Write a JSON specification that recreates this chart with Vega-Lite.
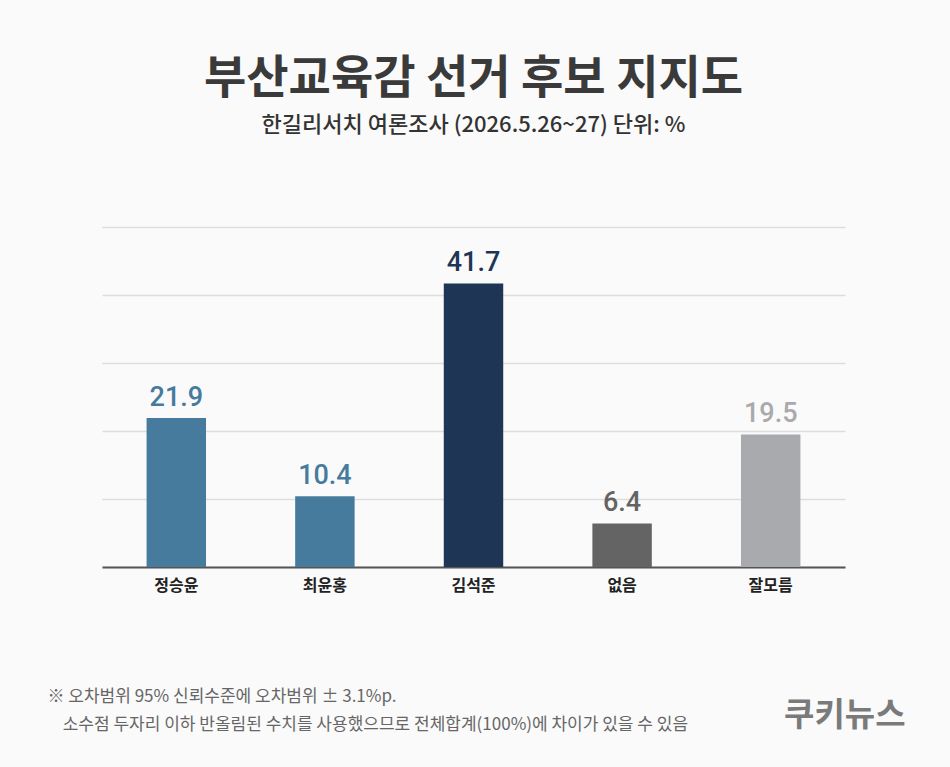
{
  "$schema": "https://vega.github.io/schema/vega-lite/v6.json",
  "width": 743,
  "height": 340,
  "autosize": {"type": "none"},
  "padding": {"left": 102, "top": 227, "right": 105, "bottom": 200},
  "background": "#fafafa",
  "config": {"view": {"stroke": null}},
  "title": {
    "text": "부산교육감 선거 후보 지지도",
    "subtitle": "한길리서치 여론조사 (2026.5.26~27) 단위: %",
    "anchor": "middle",
    "frame": "group",
    "offset": 90,
    "font": "Noto Sans CJK KR",
    "fontSize": 46,
    "fontWeight": "bold",
    "color": "#3a3a3a",
    "subtitleFont": "Noto Sans CJK KR",
    "subtitleFontSize": 22,
    "subtitleFontWeight": 500,
    "subtitleColor": "#333333",
    "subtitlePadding": 12
  },
  "data": {
    "values": [
      {"name": "정승윤", "value": 21.9},
      {"name": "최윤홍", "value": 10.4},
      {"name": "김석준", "value": 41.7},
      {"name": "없음", "value": 6.4},
      {"name": "잘모름", "value": 19.5}
    ]
  },
  "encoding": {
    "x": {
      "field": "name",
      "type": "nominal",
      "sort": null,
      "scale": {"paddingInner": 0.6, "paddingOuter": 0.3},
      "axis": {
        "title": ["※ 오차범위 95% 신뢰수준에 오차범위 ± 3.1%p.", "\u200b\u00a0\u00a0\u00a0\u00a0소수점 두자리 이하 반올림된 수치를 사용했으므로 전체합계(100%)에 차이가 있을 수 있음"],
        "titleX": -55,
        "titleY": 134,
        "titleAlign": "left",
        "titleBaseline": "alphabetic",
        "titleAnchor": "start",
        "titleFont": "Noto Sans CJK KR",
        "titleFontSize": 17,
        "titleFontWeight": "normal",
        "titleColor": "#666666",
        "titleLineHeight": 28,
        "labelAngle": 0,
        "labelFont": "Noto Sans CJK KR",
        "labelFontSize": 16,
        "labelFontWeight": "bold",
        "labelColor": "#222222",
        "labelPadding": 10,
        "ticks": false,
        "domain": true,
        "domainColor": "#555555",
        "domainWidth": 2
      }
    },
    "y": {
      "field": "value",
      "type": "quantitative",
      "scale": {"domain": [0, 50]},
      "axis": {
        "title": "쿠키뉴스",
        "titleAngle": 0,
        "titleX": 803,
        "titleY": 498,
        "titleAlign": "right",
        "titleBaseline": "alphabetic",
        "titleFont": "Noto Sans CJK KR",
        "titleFontSize": 33,
        "titleFontWeight": "bold",
        "titleColor": "#7a7a7a",
        "values": [0, 10, 20, 30, 40, 50],
        "labels": false,
        "ticks": false,
        "domain": false,
        "grid": true,
        "gridColor": "#dddddd",
        "gridWidth": 1.5
      }
    },
    "color": {
      "field": "name",
      "type": "nominal",
      "scale": {
        "domain": ["정승윤", "최윤홍", "김석준", "없음", "잘모름"],
        "range": ["#467b9d", "#467b9d", "#1f3556", "#646464", "#a9aaad"]
      },
      "legend": null
    }
  },
  "layer": [
    {"mark": {"type": "bar"}},
    {
      "mark": {"type": "text", "baseline": "alphabetic", "dy": -12, "font": "Roboto", "fontSize": 27, "fontWeight": 500},
      "encoding": {"text": {"field": "value", "type": "quantitative", "format": ".1f"}}
    }
  ]
}
